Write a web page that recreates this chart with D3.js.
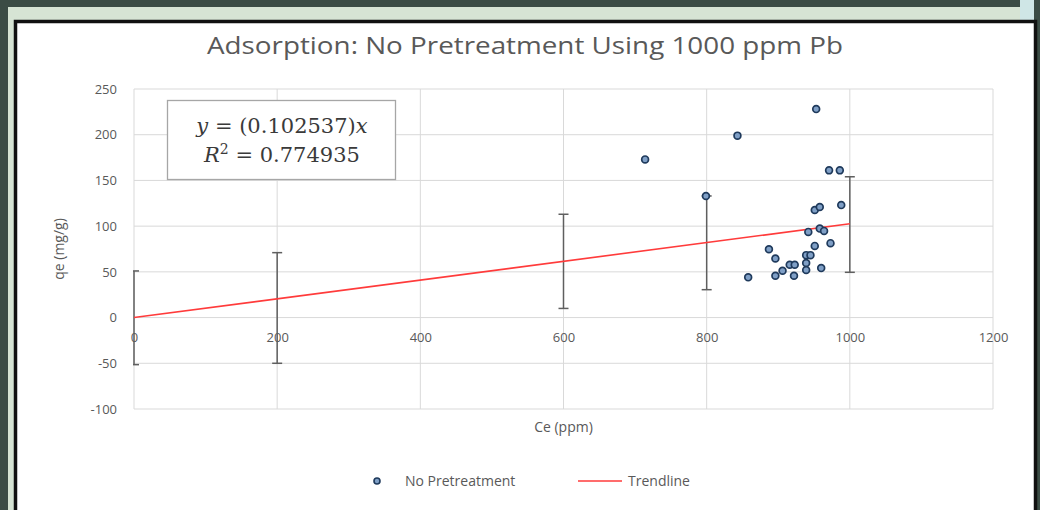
<!DOCTYPE html>
<html>
<head>
<meta charset="utf-8">
<script src="https://cdn.jsdelivr.net/npm/d3@7"></script>
<style>
  body { margin: 0; background: #3b4c45; }
  svg { display: block; }
  text { font-family: 'Open Sans', 'Noto Sans', sans-serif; fill: #595959; }
  text.eq { font-family: 'DejaVu Serif', 'Liberation Serif', serif; fill: #3a3a3a; }
</style>
</head>
<body>
<div class="d3-container"></div>
<script>
const w = 1040
const h = 510

// data
const ceValues = [714, 843, 953, 799, 971, 986, 988, 951, 958, 942, 958, 964, 951, 973, 887, 896, 939, 945, 939, 916, 923, 939, 960, 906, 896, 922, 858]
const qeValues = [173, 199, 228, 133, 161, 161, 123, 117.6, 121, 93.7, 97.3, 94.8, 78.4, 81.4, 74.8, 64.6, 68.3, 68.3, 59.6, 57.7, 57.7, 52, 54.1, 51.2, 45.8, 45.8, 44]
const errX = [0, 200, 600, 800, 1000]
const errLow = [-51.5, -50, 10, 30.5, 49.5]
const errHigh = [51, 71, 113, 133, 154]
const slope = 0.102537
const trendX = [0, 1000]
const xTicks = [0, 200, 400, 600, 800, 1000, 1200]
const yTicks = [-100, -50, 0, 50, 100, 150, 200, 250]

const svg = d3.select('.d3-container')
    .append('svg')
    .attr('width', w)
    .attr('height', h)

// frame stuff
svg.append('rect')
    .attr('x', 8).attr('y', 7)
    .attr('width', 1024).attr('height', h)
    .attr('fill', '#d6e4d4')
svg.append('rect')
    .attr('x', 1020).attr('y', 0)
    .attr('width', 14).attr('height', 20)
    .attr('fill', '#cfe6e6')
svg.append('rect')
    .attr('x', 15.5).attr('y', 21.5)
    .attr('width', 1020).attr('height', 500)
    .attr('fill', '#fff')
    .attr('stroke', '#111')
    .attr('stroke-width', 3.5)

const x = d3.scaleLinear().domain([0, 1200]).range([134, 993])
const y = d3.scaleLinear().domain([-100, 250]).range([409, 89])

// grid
const grid = svg.append('g')
grid.selectAll('.hg')
    .data(yTicks)
    .enter()
    .append('line')
    .attr('x1', x(0)).attr('x2', x(1200))
    .attr('y1', d => y(d)).attr('y2', d => y(d))
    .attr('stroke', '#d9d9d9')
grid.selectAll('.vg')
    .data(xTicks)
    .enter()
    .append('line')
    .attr('x1', d => x(d)).attr('x2', d => x(d))
    .attr('y1', y(-100)).attr('y2', y(250))
    .attr('stroke', '#d9d9d9')

// axes, no domain line, plain number labels
const yAxis = d3.axisLeft(y).tickValues(yTicks).tickSize(0).tickPadding(17).tickFormat(d => String(d))
svg.append('g')
    .attr('transform', `translate(${x(0)},0)`)
    .call(yAxis)
    .call(g => g.select('.domain').remove())
    .selectAll('text')
    .style('font-size', '13px')
    .attr('fill', '#595959')

const xAxis = d3.axisBottom(x).tickValues(xTicks).tickSize(0).tickPadding(15).tickFormat(d => String(d))
svg.append('g')
    .attr('transform', `translate(0,${y(0)})`)
    .call(xAxis)
    .call(g => g.select('.domain').remove())
    .selectAll('text')
    .style('font-size', '13px')
    .attr('fill', '#595959')

svg.selectAll('.tick text').style('font-family', "'Open Sans', sans-serif")

// clip for error bar caps
svg.append('clipPath').attr('id', 'plot')
    .append('rect')
    .attr('x', x(0) - 1).attr('y', y(250))
    .attr('width', x(1200) - x(0)).attr('height', y(-100) - y(250))

const errG = svg.append('g').attr('clip-path', 'url(#plot)')
errX.forEach((d, i) => {
    const g = errG.append('g').attr('stroke', '#5f5f5f').attr('stroke-width', 1.5)
    g.append('line')
        .attr('x1', x(d)).attr('x2', x(d))
        .attr('y1', y(errLow[i])).attr('y2', y(errHigh[i]))
    ;[errLow[i], errHigh[i]].forEach(v => {
        g.append('line')
            .attr('x1', x(d) - 5).attr('x2', x(d) + 5)
            .attr('y1', y(v)).attr('y2', y(v))
    })
})

// trendline
svg.append('path')
    .datum(trendX)
    .attr('d', d3.line().x(d => x(d)).y(d => y(d * slope)))
    .attr('stroke', '#ff3b3b')
    .attr('stroke-width', 1.6)
    .attr('fill', 'none')

// points
svg.append('g')
    .selectAll('circle')
    .data(ceValues)
    .enter()
    .append('circle')
    .attr('cx', d => x(d))
    .attr('cy', (d, i) => y(qeValues[i]))
    .attr('r', 3.4)
    .attr('fill', '#7f9fc6')
    .attr('stroke', '#1f3a5c')
    .attr('stroke-width', 1.7)

// equation box
svg.append('rect')
    .attr('x', 167.5).attr('y', 100.5)
    .attr('width', 228).attr('height', 79)
    .attr('fill', '#fff')
    .attr('stroke', '#a6a6a6')
    .attr('stroke-width', 1.3)

svg.append('text')
    .attr('class', 'eq')
    .attr('x', 282).attr('y', 133)
    .attr('text-anchor', 'middle')
    .style('font-size', '21px')
    .html('<tspan font-style="italic">y</tspan> = (0.102537)<tspan font-style="italic">x</tspan>')
svg.append('text')
    .attr('class', 'eq')
    .attr('x', 282).attr('y', 162)
    .attr('text-anchor', 'middle')
    .style('font-size', '21px')
    .html('<tspan font-style="italic">R</tspan><tspan dy="-8" font-size="14px">2</tspan><tspan dy="8"> = 0.774935</tspan>')

// title
svg.append('text')
    .attr('x', 525).attr('y', 54)
    .attr('text-anchor', 'middle')
    .attr('textLength', 636)
    .attr('lengthAdjust', 'spacingAndGlyphs')
    .style('font-size', '24px')
    .text('Adsorption: No Pretreatment Using 1000 ppm Pb')

// axis titles
svg.append('text')
    .attr('transform', `translate(64,${(y(250) + y(-100)) / 2}) rotate(-90)`)
    .attr('text-anchor', 'middle')
    .style('font-size', '14px')
    .text('qe (mg/g)')

svg.append('text')
    .attr('x', (x(0) + x(1200)) / 2).attr('y', 432)
    .attr('text-anchor', 'middle')
    .style('font-size', '14px')
    .text('Ce (ppm)')

// legend
const legend = svg.append('g').attr('transform', 'translate(0,481)')
legend.append('circle')
    .attr('cx', 377).attr('cy', 0).attr('r', 3)
    .attr('fill', '#7f9fc6').attr('stroke', '#1f3a5c').attr('stroke-width', 1.6)
legend.append('text')
    .attr('x', 405).attr('y', 5)
    .style('font-size', '14px')
    .text('No Pretreatment')
legend.append('line')
    .attr('x1', 578).attr('x2', 622)
    .attr('stroke', '#ff3b3b').attr('stroke-width', 1.6)
legend.append('text')
    .attr('x', 628).attr('y', 5)
    .style('font-size', '14px')
    .text('Trendline')
</script>
</body>
</html>
